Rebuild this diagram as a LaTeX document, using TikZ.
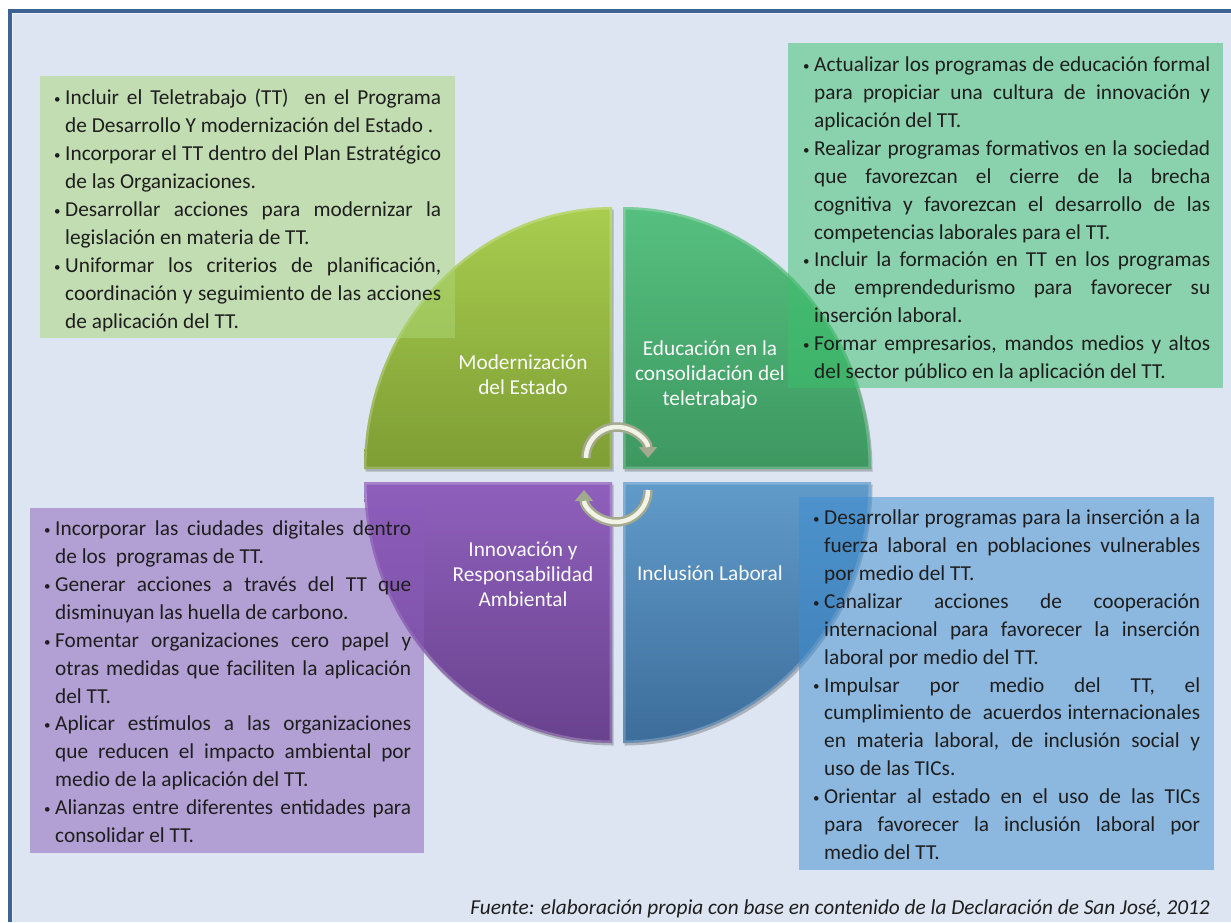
\documentclass[tikz,border=0pt]{standalone}
\usepackage{fontspec}
\setmainfont{Carlito}
\usetikzlibrary{arrows.meta}

\definecolor{pagebg}{HTML}{DCE5F1}
\definecolor{pagehi}{HTML}{EEF3F9}
\definecolor{framec}{HTML}{3D6293}
\definecolor{txtc}{HTML}{1E1E1E}
\definecolor{qAtop}{HTML}{A8CD4F}\definecolor{qAbot}{HTML}{7E9D34}
\definecolor{qBtop}{HTML}{56C080}\definecolor{qBbot}{HTML}{3D9860}
\definecolor{qCtop}{HTML}{8F60BC}\definecolor{qCbot}{HTML}{69428E}
\definecolor{qDtop}{HTML}{609BCA}\definecolor{qDbot}{HTML}{3D6D9A}
\definecolor{boxA}{HTML}{ACD777}
\definecolor{boxB}{HTML}{3AC16B}
\definecolor{boxC}{HTML}{8A5BB9}
\definecolor{boxD}{HTML}{3E8DD1}
\definecolor{arrowedge}{HTML}{A3A98E}
\definecolor{arrowlight}{HTML}{F1F3E6}

% bulleted text lines, each one exactly \colw wide
\newlength{\colw}
\newcommand{\bulletmark}{\makebox[11pt][l]{\raisebox{1.2pt}{\fontsize{13}{13}\selectfont •}}}
\newcommand{\lnA}[1]{\hbox to \colw{\strut\bulletmark #1}}
\newcommand{\lnB}[1]{\hbox to \colw{\strut\kern11pt #1}}
\newcommand{\lnC}[1]{\hbox to \colw{\strut\kern11pt #1\hfil}}

% the four quarter-ellipse sectors
\newcommand{\shapeTL}[1]{\path[#1] (612,469) -- (364,469) arc[start angle=180,end angle=270,x radius=248,y radius=262] -- cycle;}
\newcommand{\shapeTR}[1]{\path[#1] (623,469) -- (623,207) arc[start angle=270,end angle=360,x radius=248,y radius=262] -- cycle;}
\newcommand{\shapeBL}[1]{\path[#1] (612,482) -- (612,743) arc[start angle=90,end angle=180,x radius=248,y radius=261] -- cycle;}
\newcommand{\shapeBR}[1]{\path[#1] (623,482) -- (871,482) arc[start angle=0,end angle=90,x radius=248,y radius=261] -- cycle;}

\tikzset{
  panel/.style={inner sep=0pt, draw=none, fill opacity=0.5, anchor=north west},
  bodytext/.style={anchor=west, inner sep=0pt, text=txtc, font=\fontsize{21.3}{27.9}\selectfont},
  sector/.style={text=white!96!gray, align=center, inner sep=0pt, font=\fontsize{21.3}{25}\selectfont},
  sectorshadow/.style={fill=black, fill opacity=.22, xshift=1.5pt, yshift=-2.5pt},
  rim/.style={draw=white, draw opacity=.22, line width=5pt},
  turnout/.style={line width=9.5pt, draw=arrowedge, -{Triangle[width=18pt,length=11pt]}},
  turnin/.style={line width=4.5pt, draw=arrowlight, shorten >=11pt},
}

\begin{document}
\begin{tikzpicture}[x=1pt,y=-1pt]
\useasboundingbox (0,0) rectangle (1231,922);

% page and frame
\fill[white] (0,0) rectangle (1231,922);
\fill[pagebg] (9.8,10.8) rectangle (1231,922);
\draw[pagehi, line width=1.4pt] (12.6,922) -- (12.6,13.6) -- (1231,13.6);
\draw[framec, line width=3.7pt] (9.8,922) -- (9.8,10.8) -- (1231,10.8);

% sectors
\shapeTL{sectorshadow}
\shapeTR{sectorshadow}
\shapeBL{sectorshadow}
\shapeBR{sectorshadow}
\shapeTL{top color=qAtop, bottom color=qAbot}
\shapeTR{top color=qBtop, bottom color=qBbot}
\shapeBL{top color=qCtop, bottom color=qCbot}
\shapeBR{top color=qDtop, bottom color=qDbot}
\begin{scope}\shapeTL{clip}\shapeTL{rim}\end{scope}
\begin{scope}\shapeTR{clip}\shapeTR{rim}\end{scope}
\begin{scope}\shapeBL{clip}\shapeBL{rim}\end{scope}
\begin{scope}\shapeBR{clip}\shapeBR{rim}\end{scope}

% sector titles
\node[sector] (l1) at (523,375) {Modernización\\del Estado};
\node[sector] (l2) at (710,375) {Educación en la\\consolidación del\\teletrabajo};
\node[sector] (l3) at (523,574) {Innovación y\\Responsabilidad\\Ambiental};
\node[sector] (l4) at (710,573) {Inclusión Laboral};

% translucent panels
\node[panel, fill=boxA, minimum width=415pt, minimum height=262pt] (b1) at (40,76) {};
\node[panel, fill=boxB, minimum width=435pt, minimum height=345pt] (b2) at (788,43) {};
\node[panel, fill=boxC, minimum width=394pt, minimum height=345pt] (b3) at (30,508) {};
\node[panel, fill=boxD, minimum width=415pt, minimum height=373pt] (b4) at (799,497) {};

% panel texts
\setlength{\colw}{387pt}
\node[bodytext] (t1) at (54,211) {\vbox{%
\lnA{Incluir el Teletrabajo (TT)\ \ en el Programa}
\lnC{de Desarrollo Y modernización del Estado .}
\lnA{Incorporar el TT dentro del Plan Estratégico}
\lnC{de las Organizaciones.}
\lnA{Desarrollar acciones para modernizar la}
\lnC{legislación en materia de TT.}
\lnA{Uniformar los criterios de planificación,}
\lnB{coordinación y seguimiento de las acciones}
\lnC{de aplicación del TT.}}};

\setlength{\colw}{407pt}
\node[bodytext] (t2) at (803,219.5) {\vbox{%
\lnA{Actualizar los programas de educación formal}
\lnB{para propiciar una cultura de innovación y}
\lnC{aplicación del TT.}
\lnA{Realizar programas formativos en la sociedad}
\lnB{que favorezcan el cierre de la brecha}
\lnB{cognitiva y favorezcan el desarrollo de las}
\lnC{competencias laborales para el TT.}
\lnA{Incluir la formación en TT en los programas}
\lnB{de emprendedurismo para favorecer su}
\lnC{inserción laboral.}
\lnA{Formar empresarios, mandos medios y altos}
\lnC{del sector público en la aplicación del TT.}}};

\setlength{\colw}{367pt}
\node[bodytext] (t3) at (44,683.5) {\vbox{%
\lnA{Incorporar las ciudades digitales dentro}
\lnC{de los\ \ programas de TT.}
\lnA{Generar acciones a través del TT que}
\lnC{disminuyan las huella de carbono.}
\lnA{Fomentar organizaciones cero papel y}
\lnB{otras medidas que faciliten la aplicación}
\lnC{del TT.}
\lnA{Aplicar estímulos a las organizaciones}
\lnB{que reducen el impacto ambiental por}
\lnC{medio de la aplicación del TT.}
\lnA{Alianzas entre diferentes entidades para}
\lnC{consolidar el TT.}}};

\setlength{\colw}{387pt}
\node[bodytext] (t4) at (813,686.5) {\vbox{%
\lnA{Desarrollar programas para la inserción a la}
\lnB{fuerza laboral en poblaciones vulnerables}
\lnC{por medio del TT.}
\lnA{Canalizar acciones de cooperación}
\lnB{internacional para favorecer la inserción}
\lnC{laboral por medio del TT.}
\lnA{Impulsar por medio del TT, el}
\lnB{cumplimiento de\ \ acuerdos internacionales}
\lnB{en materia laboral, de inclusión social y}
\lnC{uso de las TICs.}
\lnA{Orientar al estado en el uso de las TICs}
\lnB{para favorecer la inclusión laboral por}
\lnC{medio del TT.}}};

% cycle arrows in the middle
\coordinate (ta) at (617,458);
\coordinate (tb) at (616,490);
\draw[turnout] ([xshift=-31pt]ta) arc[start angle=180,end angle=360,radius=31];
\draw[turnin]  ([xshift=-31pt]ta) arc[start angle=180,end angle=360,radius=31];
\draw[turnout] ([xshift=32pt]tb) arc[start angle=0,end angle=180,radius=32];
\draw[turnin]  ([xshift=32pt]tb) arc[start angle=0,end angle=180,radius=32];

% source line
\node[anchor=base east, inner sep=0pt, text=txtc, font=\fontsize{21.3}{25}\selectfont\itshape] (src) at (1210,914)
  {Fuente: elaboración propia con base en contenido de la Declaración de San José, 2012};
\end{tikzpicture}
\end{document}
